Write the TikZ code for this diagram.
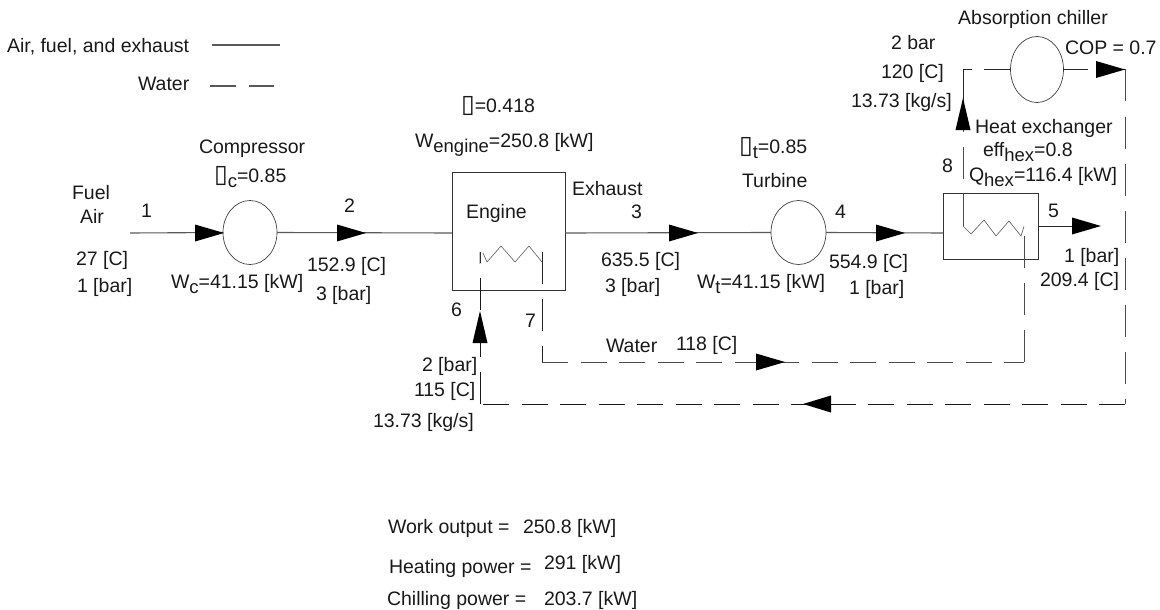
\documentclass[tikz,border=0pt]{standalone}
\usetikzlibrary{shapes.geometric}
\usepackage{fontspec}
\setmainfont{Liberation Sans}
\newfontfamily\boxfont{DejaVu Sans}
\newcommand{\mbx}{{\boxfont\fontsize{25}{25}\selectfont\char"25AF}}
\newcommand{\dn}[1]{\raisebox{-0.28em}{\fontsize{18.5}{18.5}\selectfont #1}}
\tikzset{
  lab/.style={inner sep=0pt,outer sep=0pt,anchor=base west,font=\fontsize{19.5}{22}\selectfont,text=black!90},
  oval/.style={ellipse,draw=black!75,line width=0.7pt,inner sep=0pt,outer sep=0pt},
  unitbox/.style={rectangle,draw=black!80,line width=0.9pt,inner sep=0pt,outer sep=0pt,anchor=north west},
  pipe/.style={draw=black!65,line width=1.1pt},
  zig/.style={draw=black!65,line width=0.6pt,line join=miter},
  water/.style={draw=black!70,line width=1pt,dash pattern=on 32pt off 15pt},
  waterh/.style={draw=black!70,line width=1pt,dash pattern=on 26pt off 12.5pt},
  head/.style={fill=black,draw=none}
}
\newcommand{\headR}[2]{\fill[head] (#1,#2) -- ++(-29,-8.5) -- ++(0,17) -- cycle;}
\newcommand{\headL}[2]{\fill[head] (#1,#2) -- ++(28,-8.5) -- ++(0,17) -- cycle;}
\newcommand{\headU}[2]{\fill[head] (#1,#2) -- ++(-7.5,32) -- ++(15,0) -- cycle;}
\begin{document}
\begin{tikzpicture}[x=1pt,y=-1pt]
\useasboundingbox (0,0) rectangle (1160,610);
% units
\node[oval,minimum width=54pt,minimum height=64pt] (comp) at (250,232.5) {};
\node[oval,minimum width=55pt,minimum height=64pt] (turb) at (798.5,232.5) {};
\node[oval,minimum width=53pt,minimum height=66pt] (chill) at (1037,69.5) {};
\node[unitbox,minimum width=113pt,minimum height=118pt] (eng) at (452,172) {};
\node[unitbox,minimum width=95pt,minimum height=66pt] (hex) at (943,193) {};
% named points
\coordinate (inl) at (130,233);
\coordinate (engL) at (452,233);
\coordinate (engR) at (565,233);
\coordinate (hexL) at (943,233);
\coordinate (hexR) at (1038,226);
\coordinate (out) at (1072,226);
\coordinate (chA) at (1063,69.5);
\coordinate (chB) at (1088,69.5);
\coordinate (chC) at (1097,69.5);
\coordinate (cor1) at (1125,69.5);
\coordinate (cor2) at (1125,404);
\coordinate (cor3) at (480,404);
\coordinate (cor3a) at (483,404);
\coordinate (cor4) at (542,362);
\coordinate (cor5) at (1024,362);
\coordinate (e1) at (480,252);
\coordinate (e2) at (542,252);
\coordinate (h1) at (963,226);
\coordinate (h2) at (1024,226.5);
\coordinate (tc1) at (963,100);
\coordinate (tc2) at (963,69.5);
\coordinate (tc3) at (972,69.5);
\coordinate (tc4) at (984,69.5);
\coordinate (leg1) at (212,45);
\coordinate (leg2) at (280,45);
\coordinate (leg3) at (210,86);
\coordinate (leg4) at (274,86);
% solid pipes
\draw[pipe] (inl) -- (comp.west);
\draw[pipe] (comp.east) -- (engL);
\draw[pipe] (engR) -- (turb.west);
\draw[pipe] (turb.east) -- (hexL);
\draw[pipe,line width=0.8pt,draw=black!85] (hexR) -- (out);
\draw[pipe,line width=0.8pt,draw=black!85] (chill.west) -- (tc4);
\draw[pipe,line width=0.8pt,draw=black!85] (tc3) -- (tc2) -- (tc1);
\draw[pipe,line width=0.8pt,draw=black!85] (chA) -- (chB) (chC) -- (cor1);
\draw[pipe] (leg1) -- (leg2);
% water lines
\draw[waterh,draw=black!65,line width=1.1pt,dash pattern=on 26pt off 13pt] (leg3) -- (leg4);
\draw[water] (cor1) -- (cor2);
\draw[waterh,draw=black!90] (cor2) -- (cor3a);
\draw[water,draw=black!90] (cor3) -- (e1);
\draw[water,draw=black!85] (e2) -- (cor4);
\draw[waterh] (cor4) -- (cor5);
\draw[water] (cor5) -- (h2);
\draw[water] (h1) -- (tc1);
% zigzags
\draw[zig] (e1) -- (480,264) (483,253) -- (487,262) -- (501,246) -- (515,262) -- (529,246) -- (542,262);
\draw[zig] (h1) -- (971,234) -- (984,220) -- (996,236) -- (1009,221) -- (1021,236) -- (h2);
% arrowheads
\headR{224}{233}
\headR{366}{233}
\headR{698}{233}
\headR{905}{233}
\headR{1101}{226}
\headR{1125}{69.5}
\headR{785}{362}
\headL{803}{404}
\headU{480}{311}
\headU{963}{98}
% labels
\node[lab] (t01) at (7,53) {Air, fuel, and exhaust};
\node[lab] (t02) at (138,91) {Water};
\node[lab] (t03) at (72,199) {Fuel};
\node[lab] (t04) at (80,223) {Air};
\node[lab] (t05) at (141,217) {1};
\node[lab] (t06) at (76,265) {27 [C]};
\node[lab] (t07) at (77,292) {1 [bar]};
\node[lab] (t08) at (199,153) {Compressor};
\node[lab] (t09) at (214,182) {\mbx\dn{c}=0.85};
\node[lab] (t10) at (171,288) {W\dn{c}=41.15 [kW]};
\node[lab] (t11) at (344,212) {2};
\node[lab] (t12) at (307,271) {152.9 [C]};
\node[lab] (t13) at (316,300) {3 [bar]};
\node[lab] (t14) at (461,112) {\mbx=0.418};
\node[lab] (t15) at (415,147) {W\dn{engine}=250.8 [kW]};
\node[lab] (t16) at (466,218) {Engine};
\node[lab] (t17) at (572,195) {Exhaust};
\node[lab] (t18) at (631,218) {3};
\node[lab] (t19) at (601,266) {635.5 [C]};
\node[lab] (t20) at (605,292) {3 [bar]};
\node[lab] (t21) at (451,316) {6};
\node[lab] (t22) at (525,327) {7};
\node[lab] (t23) at (422,371) {2 [bar]};
\node[lab] (t24) at (414,396) {115 [C]};
\node[lab] (t25) at (373,427) {13.73 [kg/s]};
\node[lab] (t26) at (606,352) {Water};
\node[lab] (t27) at (676,350) {118 [C]};
\node[lab] (t28) at (739,153) {\mbx\dn{t}=0.85};
\node[lab] (t29) at (742,187) {Turbine};
\node[lab] (t30) at (697,288) {W\dn{t}=41.15 [kW]};
\node[lab] (t31) at (835,218) {4};
\node[lab] (t32) at (829,268) {554.9 [C]};
\node[lab] (t33) at (849,294) {1 [bar]};
\node[lab,anchor=base] (t34) at (1033,25) {Absorption chiller};
\node[lab] (t35) at (1065,55) {COP = 0.7};
\node[lab] (t36) at (891,50) {2 bar};
\node[lab] (t37) at (881,78) {120 [C]};
\node[lab] (t38) at (851,107) {13.73 [kg/s]};
\node[lab] (t39) at (975,133) {Heat exchanger};
\node[lab] (t40) at (983,156) {eff\dn{hex}=0.8};
\node[lab] (t41) at (969,181) {Q\dn{hex}=116.4 [kW]};
\node[lab] (t42) at (942,172) {8};
\node[lab] (t43) at (1048,217) {5};
\node[lab] (t44) at (1064,262) {1 [bar]};
\node[lab] (t45) at (1040,286) {209.4 [C]};
\node[lab] (t46) at (388,533) {Work output =};
\node[lab] (t47) at (523,533) {250.8 [kW]};
\node[lab] (t48) at (389,573) {Heating power =};
\node[lab] (t49) at (544,569) {291 [kW]};
\node[lab] (t50) at (387,605) {Chilling power =};
\node[lab] (t51) at (544,605) {203.7 [kW]};
\end{tikzpicture}
\end{document}
